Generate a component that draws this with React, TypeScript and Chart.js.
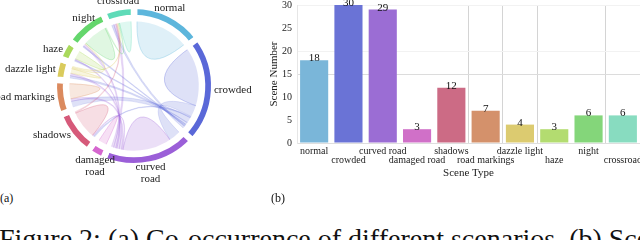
import React, { useEffect, useRef } from 'react';
import { Chart, registerables } from 'chart.js';
Chart.register(...registerables);

const FONT = '"Liberation Serif", "Times New Roman", serif';

// ---- data ----
const sceneTypes = ['normal', 'crowded', 'curved road', 'damaged road', 'shadows', 'road markings', 'dazzle light', 'haze', 'night', 'crossroad'];
const sceneCounts = [18, 30, 29, 3, 12, 7, 4, 3, 6, 6];
const barColors = ['#7ab6d9', '#6a73d6', '#9b6dd4', '#d070c8', '#cc6b85', '#d4916b', '#dccb70', '#b3dc70', '#84d67a', '#88dcc0'];
const ringColors = ['#5db6dc', '#5a68d8', '#9b5fd8', '#d566cf', '#d65a7a', '#db8a5e', '#dacb5c', '#a9d95c', '#64d66c', '#5fdbb8'];
const chordLabels = [['normal'], ['crowded'], ['curved', 'road'], ['damaged', 'road'], ['shadows'], ['road markings'], ['dazzle light'], ['haze'], ['night'], ['crossroad']];
// co-occurrence matrix (symmetric), same order as sceneTypes
const rowNormal = [46, 0, 0, 0, 0, 0, 0, 0, 0, 0];
const rowCrowded = [0, 50, 10, 0, 1, 5, 2, 1, 1, 2];
const rowCurved = [0, 10, 42, 0, 1, 2, 2, 1, 2, 2];
const rowDamaged = [0, 0, 0, 7, 0, 0, 0, 0, 0, 0];
const rowShadows = [0, 1, 1, 0, 24, 0, 0, 0, 0, 1];
const rowRoadMarkings = [0, 5, 2, 0, 0, 13, 0, 0, 0, 0];
const rowDazzle = [0, 2, 2, 0, 0, 0, 4, 0, 1, 1];
const rowHaze = [0, 1, 1, 0, 0, 0, 0, 7, 0, 0];
const rowNight = [0, 1, 2, 0, 0, 0, 1, 0, 21, 1];
const rowCrossroad = [0, 2, 2, 0, 1, 0, 1, 0, 1, 10];
const cooccurrence = [rowNormal, rowCrowded, rowCurved, rowDamaged, rowShadows, rowRoadMarkings, rowDazzle, rowHaze, rowNight, rowCrossroad];
const rowSums = cooccurrence.map((r) => r.reduce((a, b) => a + b, 0));

const PAD_UNITS = 5; // pad between groups (like d3 chord padAngle), in matrix units
const GAP = 6.5; // white border width that opens the gaps between ring pieces
const arcSizes = rowSums.map((v) => v + PAD_UNITS);

function rgba(hex: string, a: number) {
  const v = parseInt(hex.slice(1), 16);
  return `rgba(${(v >> 16) & 255},${(v >> 8) & 255},${v & 255},${a})`;
}

const chordPlugin = {
  id: 'chords',
  beforeDatasetsDraw(chart: any) {
    const arcs = chart.getDatasetMeta(0).data as any[];
    if (!arcs.length) return;
    const n = arcs.length;
    const segs: number[][][] = [];
    for (let i = 0; i < n; i++) {
      const a = arcs[i];
      const unit = (a.endAngle - a.startAngle) / arcSizes[i];
      const s = a.startAngle + (unit * PAD_UNITS) / 2;
      let cur = s;
      segs[i] = [];
      for (let j = 0; j < n; j++) {
        const w = cooccurrence[i][j] * unit;
        segs[i][j] = [cur, cur + w];
        cur += w;
      }
    }
    const cx = arcs[0].x, cy = arcs[0].y, r = arcs[0].innerRadius + GAP / 2 - 2.5;
    const ctx = chart.ctx;
    ctx.save();
    for (let i = 0; i < n; i++) {
      for (let j = i; j < n; j++) {
        if (cooccurrence[i][j] <= 0) continue;
        const [s0, s1] = segs[i][j];
        const [t0, t1] = segs[j][i];
        ctx.beginPath();
        ctx.moveTo(cx + r * Math.cos(s0), cy + r * Math.sin(s0));
        ctx.arc(cx, cy, r, s0, s1);
        ctx.quadraticCurveTo(cx, cy, cx + r * Math.cos(t0), cy + r * Math.sin(t0));
        ctx.arc(cx, cy, r, t0, t1);
        ctx.quadraticCurveTo(cx, cy, cx + r * Math.cos(s0), cy + r * Math.sin(s0));
        ctx.closePath();
        ctx.fillStyle = rgba(ringColors[i], 0.2);
        ctx.fill();
        ctx.strokeStyle = rgba(ringColors[i], 0.28);
        ctx.lineWidth = 0.6;
        ctx.stroke();
      }
    }
    ctx.restore();
  },
  afterDatasetsDraw(chart: any) {
    const arcs = chart.getDatasetMeta(0).data as any[];
    const ctx = chart.ctx;
    ctx.save();
    ctx.font = `11px ${FONT}`;
    ctx.fillStyle = '#222';
    const lh = 12;
    arcs.forEach((a: any, i: number) => {
      const mid = (a.startAngle + a.endAngle) / 2;
      const R = a.outerRadius - GAP / 2 + 3;
      const hx = Math.cos(mid), vy = Math.sin(mid);
      const x = a.x + R * hx, y = a.y + R * vy;
      ctx.textAlign = hx > 0.7 ? 'left' : hx < -0.7 ? 'right' : 'center';
      const lines = chordLabels[i];
      let y0: number;
      if (vy < -0.7) y0 = y - lh * (lines.length - 0.5);
      else if (vy > 0.7) y0 = y + lh * 0.5 - 4 * (1 - Math.abs(hx));
      else y0 = y - (lh * (lines.length - 1)) / 2;
      ctx.textBaseline = 'middle';
      lines.forEach((t: string, k: number) => ctx.fillText(t, x, y0 + k * lh));
    });
    ctx.restore();
  },
};

const barValuePlugin = {
  id: 'barValues',
  afterDatasetsDraw(chart: any) {
    const meta = chart.getDatasetMeta(0);
    const ctx = chart.ctx;
    ctx.save();
    ctx.font = `11px ${FONT}`;
    ctx.fillStyle = '#111';
    ctx.textAlign = 'center';
    ctx.textBaseline = 'alphabetic';
    meta.data.forEach((bar: any, i: number) => {
      ctx.fillText(String(sceneCounts[i]), bar.x, bar.y + 1);
    });
    ctx.restore();
  },
};

function ChordChart() {
  const ref = useRef<HTMLCanvasElement>(null);
  useEffect(() => {
    const chart = new Chart(ref.current!, {
      type: 'doughnut',
      data: {
        labels: sceneTypes,
        datasets: [{
          data: arcSizes,
          backgroundColor: ringColors,
          borderColor: '#ffffff',
          borderWidth: GAP,
          borderAlign: 'center',
          borderJoinStyle: 'miter',
        }],
      },
      options: {
        responsive: false,
        animation: false,
        cutout: 68,
        layout: { padding: { top: 2.5, bottom: 20.5, left: 6, right: 6 } },
        plugins: { legend: { display: false }, tooltip: { enabled: false } },
        events: [],
      },
      plugins: [chordPlugin],
    } as any);
    return () => chart.destroy();
  }, []);
  return <canvas ref={ref} width={268} height={190} style={{ position: 'absolute', left: 0, top: 0 }} />;
}

function BarChart() {
  const ref = useRef<HTMLCanvasElement>(null);
  useEffect(() => {
    const xGridIdx = [5, 6, 7, 9];
    const chart = new Chart(ref.current!, {
      type: 'bar',
      data: {
        labels: sceneTypes,
        datasets: [{
          data: sceneCounts,
          backgroundColor: barColors,
          borderWidth: 0,
          categoryPercentage: 1,
          barPercentage: 0.82,
        }],
      },
      options: {
        responsive: false,
        animation: false,
        events: [],
        layout: { padding: { top: 5, right: 0, bottom: 0, left: 0 } },
        plugins: { legend: { display: false }, tooltip: { enabled: false } },
        scales: {
          x: {
            grid: {
              drawTicks: false,
              color: (c: any) => (xGridIdx.includes(c.index) ? '#d4d4d4' : 'rgba(0,0,0,0)'),
            },
            border: { color: '#dedede' },
            ticks: {
              font: { family: FONT, size: 10, lineHeight: 0.9 },
              color: '#222',
              padding: 4,
              maxRotation: 0,
              minRotation: 0,
              autoSkip: false,
              callback: (_v: any, i: number) => (i % 2 === 0 ? sceneTypes[i] : ['', sceneTypes[i]]),
            },
            title: {
              display: true,
              text: 'Scene Type',
              font: { family: FONT, size: 11 },
              color: '#222',
              padding: { top: 0, bottom: 6 },
            },
            afterFit: (s: any) => { s.height = 43; s.paddingLeft = 0; s.paddingRight = 0; },
          },
          y: {
            min: 0,
            max: 30,
            ticks: {
              stepSize: 5,
              font: { family: FONT, size: 10 },
              color: '#222',
              padding: 5,
            },
            grid: {
              drawTicks: false,
              color: (c: any) => {
                const v = c.tick && c.tick.value;
                if (v === 15) return '#dcdcdc';
                if (v === 20 || v === 30) return '#f2f2f2';
                return 'rgba(0,0,0,0)';
              },
            },
            border: { color: '#e6e6e6' },
            title: {
              display: true,
              text: 'Scene Number',
              font: { family: FONT, size: 11 },
              color: '#222',
              padding: { top: 10, bottom: 0 },
            },
            afterFit: (s: any) => { s.width = 39; s.paddingTop = 0; s.paddingBottom = 0; },
          },
        },
      },
      plugins: [barValuePlugin],
    } as any);
    return () => chart.destroy();
  }, []);
  return <canvas ref={ref} width={382} height={186} style={{ position: 'absolute', left: 258, top: 0 }} />;
}

export default function App() {
  return (
    <div style={{ position: 'fixed', left: 0, top: 0, width: 640, height: 240, overflow: 'hidden', background: '#fff', fontFamily: FONT, color: '#111' }}>
      <ChordChart />
      <BarChart />
      <div style={{ position: 'absolute', left: 0, top: 191, fontSize: 12, lineHeight: '14px' }}>(a)</div>
      <div style={{ position: 'absolute', left: 271, top: 191, fontSize: 12, lineHeight: '14px' }}>(b)</div>
      <div style={{ position: 'absolute', left: -1, top: 224, fontSize: 28, lineHeight: '30px', whiteSpace: 'nowrap' }}>
        Figure 2: (a) Co-occurrence of different scenarios. (b) Scene
      </div>
    </div>
  );
}
